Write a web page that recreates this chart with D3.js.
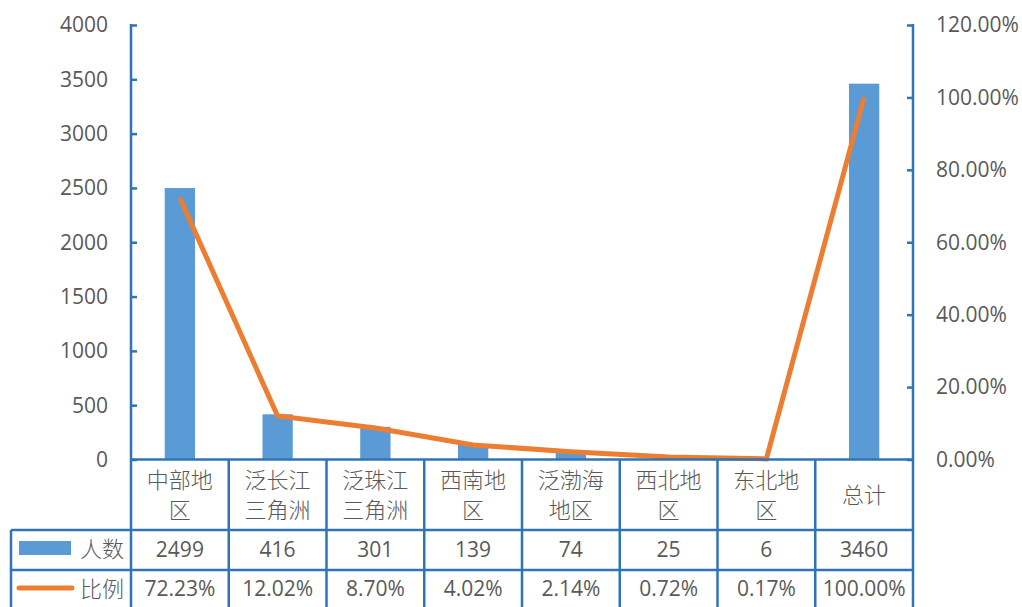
<!DOCTYPE html>
<html><head><meta charset="utf-8">
<script src="https://cdn.jsdelivr.net/npm/d3@7"></script>
<style>
html,body{margin:0;padding:0;background:#fff;}
svg{display:block;}
text{font-family:"Open Sans","Liberation Sans",sans-serif;fill:#595959;}
.cjk{font-family:"Noto Sans CJK SC",sans-serif;font-weight:300;}
</style></head>
<body>
<svg id="chart" width="1022" height="607"></svg>
<script>
const categories = ["中部地区","泛长江三角洲","泛珠江三角洲","西南地区","泛渤海地区","西北地区","东北地区","总计"];
const categoryLines = [["中部地","区"],["泛长江","三角洲"],["泛珠江","三角洲"],["西南地","区"],["泛渤海","地区"],["西北地","区"],["东北地","区"],["总计"]];
const counts = [2499,416,301,139,74,25,6,3460];
const ratios = [0.7223,0.1202,0.0870,0.0402,0.0214,0.0072,0.0017,1.0];
const ratioLabels = ["72.23%","12.02%","8.70%","4.02%","2.14%","0.72%","0.17%","100.00%"];
const leftTicks = [0,500,1000,1500,2000,2500,3000,3500,4000];
const rightTicks = [0,0.2,0.4,0.6,0.8,1.0,1.2];
const seriesNames = ["人数","比例"];

const axisColor = "#2E75B6", barColor = "#5B9BD5", lineColor = "#ED7D31";
const L = 131, R = 913, T = 25, B = 459.5;
const svg = d3.select("#chart");

const xCell = d3.scaleBand().domain(categories).range([L, R]).padding(0);
const xBar = d3.scaleBand().domain(categories).range([L, R]).paddingInner(0.69).paddingOuter(0.345);
const yL = d3.scaleLinear().domain([0,4000]).range([B, T]);
const yR = d3.scaleLinear().domain([0,1.2]).range([B, T]);

// bars
svg.append("g").selectAll("rect").data(categories).join("rect")
  .attr("x", d => xBar(d)).attr("width", xBar.bandwidth())
  .attr("y", (d,i) => yL(counts[i])).attr("height", (d,i) => B - yL(counts[i]))
  .attr("fill", barColor);

// line
const line = d3.line().x((d,i) => xCell(categories[i]) + xCell.bandwidth()/2).y(d => yR(d));
svg.append("path").datum(ratios).attr("d", line)
  .attr("fill","none").attr("stroke", lineColor).attr("stroke-width", 5);

// left axis
const gl = svg.append("g").attr("transform", `translate(${L},0)`)
  .call(d3.axisRight(yL).tickValues(leftTicks).tickSize(6).tickFormat(""));
gl.select(".domain").remove();
gl.selectAll("line").attr("stroke", axisColor).attr("stroke-width", 2.5);
svg.append("line").attr("x1",L).attr("x2",L).attr("y1",T-1).attr("y2",607)
  .attr("stroke",axisColor).attr("stroke-width",2.5);
svg.append("g").selectAll("text").data(leftTicks).join("text")
  .attr("x", 108).attr("y", d => yL(d)).attr("dy","0.35em").attr("text-anchor","end")
  .attr("font-size", 21).text(d => d);

// right axis
const gr = svg.append("g").attr("transform", `translate(${R},0)`)
  .call(d3.axisLeft(yR).tickValues(rightTicks).tickSize(6).tickFormat(""));
gr.select(".domain").remove();
gr.selectAll("line").attr("stroke", axisColor).attr("stroke-width", 2.5);
svg.append("line").attr("x1",R).attr("x2",R).attr("y1",T-1).attr("y2",607)
  .attr("stroke",axisColor).attr("stroke-width",2.5);
svg.append("g").selectAll("text").data(rightTicks).join("text")
  .attr("x", 936).attr("y", d => yR(d)).attr("dy","0.35em").attr("text-anchor","start")
  .attr("font-size", 21).text(d3.format(".2%"));

// table grid
const row1 = 530, row2 = 570;
const grid = svg.append("g").attr("stroke", axisColor).attr("stroke-width", 2.5);
grid.append("line").attr("x1",L).attr("x2",R).attr("y1",B).attr("y2",B);
grid.append("line").attr("x1",11).attr("x2",R).attr("y1",row1).attr("y2",row1);
grid.append("line").attr("x1",11).attr("x2",R).attr("y1",row2).attr("y2",row2);
grid.append("line").attr("x1",11).attr("x2",11).attr("y1",row1).attr("y2",607);
grid.selectAll(".v").data(categories.slice(1)).join("line")
  .attr("x1", d => xCell(d)).attr("x2", d => xCell(d)).attr("y1", B).attr("y2", 607);

// header labels
const hdr = svg.append("g");
categories.forEach((c,i) => {
  const lines = categoryLines[i];
  const cx = xCell(c) + xCell.bandwidth()/2;
  const ys = lines.length === 2 ? [480, 510] : [495];
  lines.forEach((t,j) => {
    hdr.append("text").attr("class","cjk").attr("x", cx).attr("y", ys[j]).attr("dy","0.35em")
      .attr("text-anchor","middle").attr("font-size", 22).text(t);
  });
});

// data rows
svg.append("g").selectAll("text").data(counts).join("text")
  .attr("x", (d,i) => xCell(categories[i]) + xCell.bandwidth()/2).attr("y", 550).attr("dy","0.35em")
  .attr("text-anchor","middle").attr("font-size", 21).text(d => d);
svg.append("g").selectAll("text").data(ratioLabels).join("text")
  .attr("x", (d,i) => xCell(categories[i]) + xCell.bandwidth()/2).attr("y", 589).attr("dy","0.35em")
  .attr("text-anchor","middle").attr("font-size", 21).text(d => d);

// legend keys
svg.append("rect").attr("x",19).attr("y",541).attr("width",52).attr("height",14).attr("fill",barColor);
svg.append("line").attr("x1",19).attr("x2",72).attr("y1",588).attr("y2",588)
  .attr("stroke",lineColor).attr("stroke-width",5).attr("stroke-linecap","round");
svg.append("text").attr("class","cjk").attr("x",124).attr("y",549).attr("dy","0.35em")
  .attr("text-anchor","end").attr("font-size",22).text(seriesNames[0]);
svg.append("text").attr("class","cjk").attr("x",124).attr("y",589).attr("dy","0.35em")
  .attr("text-anchor","end").attr("font-size",22).text(seriesNames[1]);
</script>
</body></html>
